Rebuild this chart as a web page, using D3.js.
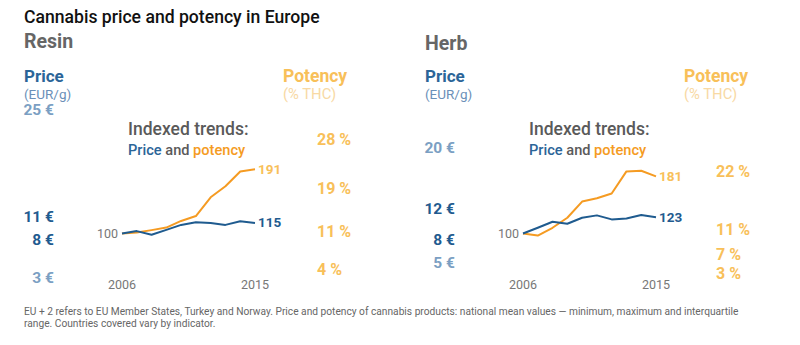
<!DOCTYPE html>
<html>
<head>
<meta charset="utf-8">
<script src="https://cdn.jsdelivr.net/npm/d3@7"></script>
<style>
  body { margin: 0; background: #fff; }
  svg { display: block; font-family: Roboto, "Open Sans", sans-serif; }
</style>
</head>
<body>
<svg id="chart" width="800" height="345"></svg>
<script>
// ---- data ----
const years = [2006, 2007, 2008, 2009, 2010, 2011, 2012, 2013, 2014, 2015];
const resinPriceIndex   = [100, 103.4, 98.2, 105.2, 112.2, 116, 115, 112.2, 117.4, 115];
const resinPotencyIndex = [100, 101.4, 104.8, 108.4, 117.8, 124.8, 151.4, 167, 188, 191];
const herbPriceIndex    = [100, 108.1, 116.7, 113.9, 122.4, 125.7, 120, 121.4, 126.1, 123];
const herbPotencyIndex  = [100, 97.1, 108.1, 122.4, 145.3, 150, 156.7, 188.1, 189, 181];
const resinPriceTicks   = [25, 11, 8, 3];      // EUR/g
const resinPotencyTicks = [28, 19, 11, 4];     // % THC
const herbPriceTicks    = [20, 12, 8, 5];
const herbPotencyTicks  = [22, 11.3, 6.8, 3.2];
const panelNames = ["Resin", "Herb"];
const title = "Cannabis price and potency in Europe";
const footnote = [
  "EU + 2 refers to EU Member States, Turkey and Norway. Price and potency of cannabis products: national mean values \u2014 minimum, maximum and interquartile",
  "range. Countries covered vary by indicator."
];

const BLUE = "#1f5b8f", BLUE_LIGHT = "#7b9fc3", ORANGE = "#f59b22", ORANGE_L = "#f8c059", ORANGE_XL = "#f8d9a4", GREY = "#5a5a5a";

const panels = [
  { name: panelNames[0], dx: 0, price: resinPriceIndex, potency: resinPotencyIndex,
    priceTicks: resinPriceTicks, potTicks: resinPotencyTicks, strong: [11, 8], potX: 317, nameY: 48 },
  { name: panelNames[1], dx: 401, price: herbPriceIndex, potency: herbPotencyIndex,
    priceTicks: herbPriceTicks, potTicks: herbPotencyTicks, strong: [12, 8], potX: 315, nameY: 50 }
];

const svg = d3.select("#chart");

svg.append("text").attr("x", 24).attr("y", 23)
  .attr("font-size", 17.6).attr("font-weight", 500).attr("fill", "#111").text(title);

// shared scales
const x = d3.scaleLinear().domain([2006, 2015]).range([122, 255]);
const yIdx = d3.scaleLinear().domain([100, 200]).range([233.5, 163]);
const yPrice = d3.scaleLinear().domain([0, 25]).range([306, 115]);
const yPot = d3.scaleLinear().domain([0, 28]).range([296.7, 144.7]);

panels.forEach(p => {
  const g = svg.append("g").attr("transform", `translate(${p.dx},0)`);

  g.append("text").attr("x", 24).attr("y", p.nameY).attr("font-size", 19.5)
    .attr("font-weight", 700).attr("fill", "#666").text(p.name);

  g.append("text").attr("x", 24).attr("y", 82).attr("font-size", 17)
    .attr("font-weight", 700).attr("fill", "#2b6598").text("Price");
  g.append("text").attr("x", 24).attr("y", 99).attr("font-size", 13.5)
    .attr("fill", "#6b90b8").text("(EUR/g)");
  g.append("text").attr("x", 283).attr("y", 82).attr("font-size", 17.5)
    .attr("font-weight", 700).attr("fill", ORANGE_L).text("Potency");
  g.append("text").attr("x", 283).attr("y", 99).attr("font-size", 14.8)
    .attr("fill", ORANGE_XL).text("(% THC)");

  // price value labels
  g.selectAll(".pt").data(p.priceTicks).join("text")
    .attr("x", 54).attr("y", d => yPrice(d)).attr("text-anchor", "end")
    .attr("font-size", 15.5).attr("font-weight", 700)
    .attr("fill", d => p.strong.includes(d) ? BLUE : BLUE_LIGHT)
    .text(d => Math.round(d) + " \u20ac");

  // potency value labels
  g.selectAll(".po").data(p.potTicks).join("text")
    .attr("x", p.potX).attr("y", d => yPot(d))
    .attr("font-size", 16).attr("font-weight", 700).attr("fill", ORANGE_L)
    .text(d => Math.round(d) + " %");

  // header of indexed trend
  g.append("text").attr("x", 128).attr("y", 135).attr("font-size", 17.5)
    .attr("font-weight", 500).attr("fill", GREY).text("Indexed trends:");
  const t = g.append("text").attr("x", 128).attr("y", 154.5).attr("font-size", 14.6).attr("font-weight", 500);
  t.append("tspan").attr("fill", "#2b6598").text("Price");
  t.append("tspan").attr("fill", GREY).text(" and ");
  t.append("tspan").attr("fill", ORANGE).text("potency");

  const line = d3.line().x((d, i) => x(years[i])).y(d => yIdx(d));
  g.append("path").datum(p.potency).attr("d", line).attr("fill", "none")
    .attr("stroke", ORANGE).attr("stroke-width", 2).attr("stroke-linejoin", "round");
  g.append("path").datum(p.price).attr("d", line).attr("fill", "none")
    .attr("stroke", BLUE).attr("stroke-width", 2).attr("stroke-linejoin", "round");

  g.append("text").attr("x", x(2006) - 4).attr("y", yIdx(100) + 4.5).attr("text-anchor", "end")
    .attr("font-size", 12.5).attr("fill", "#777").text("100");
  const last = years.length - 1;
  g.append("text").attr("x", x(2015) + 3).attr("y", yIdx(p.potency[last]) + 4.5)
    .attr("font-size", 13.5).attr("font-weight", 700).attr("fill", ORANGE_L)
    .text(Math.round(p.potency[last]));
  g.append("text").attr("x", x(2015) + 3).attr("y", yIdx(p.price[last]) + 4.5)
    .attr("font-size", 13.5).attr("font-weight", 700).attr("fill", BLUE)
    .text(Math.round(p.price[last]));

  // year labels
  g.selectAll(".yr").data([years[0], years[last]]).join("text")
    .attr("x", d => x(d)).attr("y", 289).attr("text-anchor", "middle")
    .attr("font-size", 12.5).attr("fill", "#777").text(d => d);
});

svg.selectAll(".fn").data(footnote).join("text")
  .attr("x", 24).attr("y", (d, i) => 315 + i * 12)
  .attr("font-size", 10.2).attr("fill", "#666")
  .attr("font-family", "Roboto, sans-serif")
  .text(d => d);
</script>
</body>
</html>
